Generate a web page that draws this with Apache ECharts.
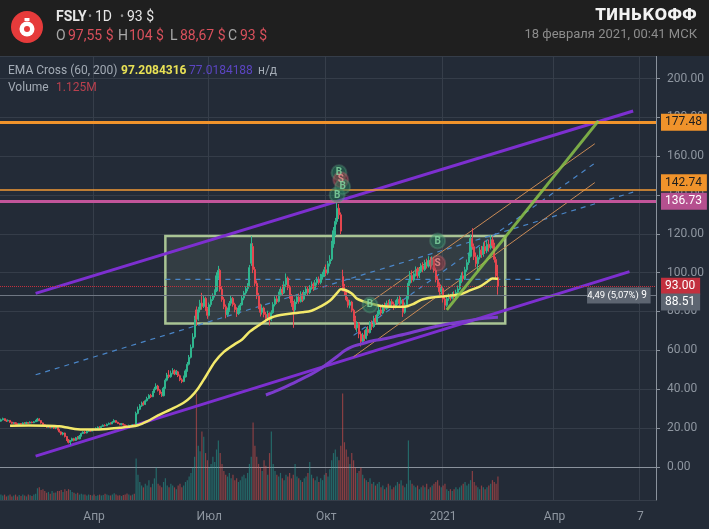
<!DOCTYPE html>
<html><head><meta charset="utf-8">
<script src="https://cdn.jsdelivr.net/npm/echarts/dist/echarts.min.js"></script>
<style>html,body{margin:0;padding:0;background:#1f1f1f;}#c{width:709px;height:529px;}</style>
</head><body><div id="c"></div><script>
// ---- category axis (trading-day slots, ~Jan 17 2020 .. Jun 2021) ----
const slotCount = 359;
const tickIndex = [51, 114, 178, 242, 303, 350];
const tickLabels = ['Апр', 'Июл', 'Окт', '2021', 'Апр', '7'];
const priceTicks = [0, 20, 40, 60, 80, 100, 120, 140, 160, 180, 200];

// ---- daily candles: [open, close, low, high] ----
const candles = [
[23.5,24.2,23.2,24.8],[24.2,24.8,23.9,25.3],[24.8,24.0,23.6,25.0],[24.0,23.6,23.1,24.3],[23.6,23.9,23.3,24.4],
[23.9,23.0,22.7,24.0],[23.0,22.4,22.0,23.2],[22.4,22.7,22.1,23.1],[22.7,22.2,21.8,22.9],[22.2,21.8,21.4,22.5],
[21.8,22.3,21.6,22.6],[22.3,22.0,21.7,22.5],[22.0,22.6,21.8,22.9],[22.6,22.3,22.0,23.0],[22.3,22.8,22.1,23.2],
[22.8,22.5,22.1,23.1],[22.5,23.0,22.3,23.4],[23.0,22.7,22.4,23.3],[22.7,23.2,22.5,23.6],[23.2,23.6,23.0,24.2],
[23.6,24.6,23.4,25.2],[24.6,23.8,23.5,25.0],[23.8,22.6,22.2,24.0],[22.6,21.6,21.2,22.8],[21.6,21.0,20.6,21.9],
[21.0,20.4,20.0,21.3],[20.4,20.9,20.1,21.4],[20.9,20.2,19.8,21.1],[20.2,20.7,19.9,21.2],[20.7,19.9,19.5,20.9],
[19.9,20.3,19.4,20.8],[20.3,19.2,18.8,20.5],[19.2,18.0,17.6,19.4],[18.0,16.8,16.3,18.3],[16.8,17.4,16.2,17.9],
[17.4,15.6,15.1,17.6],[15.6,13.8,13.3,15.9],[13.8,12.6,12.0,14.3],[12.6,13.4,11.2,13.8],[13.4,14.5,13.0,15.0],
[14.5,13.6,13.1,14.9],[13.6,15.0,13.3,15.4],[15.0,14.4,14.0,15.8],[14.4,15.8,14.2,16.4],[15.8,17.2,15.6,17.6],
[17.2,17.9,16.9,18.3],[17.9,17.4,17.0,18.4],[17.4,18.3,17.2,18.7],[18.3,18.9,18.0,19.3],[18.9,18.4,18.1,19.2],
[18.4,19.3,18.2,19.7],[19.3,19.0,18.6,19.8],[19.0,19.8,18.8,20.3],[19.8,20.4,19.5,20.8],[20.4,20.1,19.7,20.9],
[20.1,20.8,19.9,21.2],[20.8,21.4,20.6,21.8],[21.4,21.1,20.8,21.9],[21.1,21.9,21.0,22.3],[21.9,22.4,21.6,22.8],
[22.4,22.1,21.8,22.9],[22.1,23.0,22.0,23.5],[23.0,23.8,22.8,24.5],[23.8,22.9,22.6,24.0],[22.9,22.3,22.0,23.2],
[22.3,21.7,21.4,22.6],[21.7,22.2,21.4,22.5],[22.2,21.6,21.2,22.4],[21.6,21.1,20.8,21.9],[21.1,20.6,20.3,21.5],
[20.6,21.3,20.5,21.7],[21.3,21.0,20.7,21.6],[21.0,21.6,20.8,22.0],[21.6,21.4,21.0,22.1],[21.6,27.5,21.5,28.4],
[27.5,29.6,27.0,31.0],[29.6,31.4,29.2,32.3],[31.4,32.8,30.9,33.6],[32.8,32.1,31.5,33.8],[32.1,34.0,31.8,34.6],
[34.0,35.2,33.6,36.1],[35.2,36.8,34.8,37.4],[36.8,36.1,35.5,37.6],[36.1,38.4,35.9,39.0],[38.4,40.1,38.0,41.2],
[40.1,41.6,39.5,43.0],[41.6,39.4,38.8,42.2],[39.4,37.8,37.0,40.0],[37.8,36.6,36.0,38.6],[36.6,40.5,36.3,41.2],
[40.5,44.6,40.2,45.5],[44.6,47.3,44.0,48.4],[47.3,46.4,45.6,49.8],[46.4,48.2,45.9,49.6],[48.2,49.5,47.6,50.8],
[49.5,47.8,47.2,50.2],[47.8,48.9,47.3,49.9],[48.9,46.9,46.2,49.4],[46.9,44.8,44.1,47.5],[44.8,43.9,43.1,45.6],
[43.9,46.3,43.6,47.0],[46.3,49.4,46.0,50.2],[49.4,52.8,49.0,54.0],[52.8,56.4,52.2,57.6],[56.4,61.5,55.8,63.0],
[61.5,66.8,61.0,68.8],[66.8,76.4,66.0,77.8],[80.8,76.0,72.6,82.6],[76.0,80.9,75.2,82.4],[80.9,84.3,79.5,86.0],
[84.3,82.6,80.9,89.6],[82.6,86.8,81.8,88.5],[86.8,81.4,80.3,87.6],[81.4,78.0,76.2,82.3],[78.0,83.5,77.5,84.6],
[83.5,86.2,82.4,87.8],[86.2,88.3,85.4,89.4],[88.3,90.6,87.2,91.4],[90.6,98.4,90.0,100.2],[98.4,101.2,96.8,103.5],
[101.2,91.5,90.2,102.0],[91.5,86.2,85.0,93.0],[86.2,82.5,81.2,87.4],[82.5,78.4,76.5,83.6],[78.4,80.6,77.4,82.0],
[80.6,84.2,79.8,85.4],[84.2,86.8,83.0,88.2],[86.8,83.6,82.5,87.5],[83.6,81.0,79.6,84.5],[81.0,78.9,77.2,82.2],
[78.9,81.8,78.2,83.0],[81.8,83.4,80.5,84.4],[83.4,86.9,83.0,88.0],[86.9,89.5,85.8,90.6],[89.5,91.8,88.6,93.0],
[91.8,93.2,90.4,94.6],[93.2,102.6,92.8,104.0],[104.8,114.9,103.5,118.8],[113.5,101.6,99.8,115.2],[101.6,94.5,93.2,103.0],
[94.5,88.0,86.4,96.0],[88.0,82.5,81.2,89.6],[82.5,79.6,77.4,84.0],[79.6,81.8,78.4,83.6],[81.8,78.5,77.0,82.5],
[78.5,76.4,74.6,79.8],[76.4,78.9,75.2,80.4],[78.9,75.8,72.8,79.6],[75.8,79.4,75.0,80.6],[79.4,83.6,78.8,84.8],
[83.6,86.5,82.6,87.8],[86.5,85.2,83.9,88.4],[85.2,88.7,84.6,90.2],[88.7,91.4,87.8,92.6],[91.4,89.6,88.4,93.8],
[89.6,93.8,89.0,95.6],[93.8,97.2,92.5,99.6],[97.2,92.4,91.0,98.0],[92.4,88.1,86.5,93.5],[88.1,84.5,82.4,89.0],
[84.5,80.8,71.6,85.4],[80.8,84.9,79.5,86.2],[84.9,87.5,83.8,88.8],[87.5,85.1,84.0,89.2],[85.1,88.9,84.6,90.4],
[88.9,86.3,84.8,90.0],[86.3,89.4,85.5,91.0],[89.4,91.6,88.5,93.0],[91.6,89.8,88.4,92.8],[89.8,92.4,88.9,93.6],
[92.4,94.1,91.2,95.5],[94.1,91.8,90.6,95.0],[91.8,94.8,91.0,96.2],[94.8,96.3,93.4,97.8],[96.3,94.9,93.8,98.0],
[94.9,97.8,94.0,99.4],[97.8,99.2,96.4,100.5],[99.2,101.5,97.8,103.0],[101.5,99.8,98.2,104.2],[99.8,104.6,99.0,106.0],
[104.6,106.9,103.2,109.0],[106.9,114.8,106.0,116.4],[114.8,121.6,112.8,123.5],[121.6,126.4,119.0,128.2],[126.4,133.2,124.8,136.2],
[133.2,129.8,127.6,135.4],[129.8,121.4,119.8,131.0],[98.0,92.6,90.4,101.5],[92.6,90.4,88.0,94.2],[90.4,86.0,85.2,91.4],
[86.0,83.2,82.0,87.4],[83.2,84.9,81.6,86.0],[84.9,80.6,79.6,85.5],[80.6,76.2,74.8,81.4],[76.2,71.5,70.6,77.8],
[71.5,73.8,69.5,75.0],[73.8,68.4,66.2,74.5],[68.4,64.6,62.0,69.8],[64.6,67.9,63.5,69.0],[67.9,66.2,64.8,70.4],
[66.2,70.8,65.6,72.0],[70.8,69.1,67.5,72.4],[69.1,73.6,68.7,75.0],[73.6,72.2,70.4,75.4],[72.2,76.4,71.6,77.8],
[76.4,74.6,73.5,78.2],[74.6,78.5,74.0,80.4],[78.5,80.8,77.6,82.5],[80.8,79.2,77.8,82.4],[79.2,82.5,78.6,83.8],
[82.5,81.4,80.2,84.6],[81.4,84.2,80.8,85.6],[84.2,82.6,81.6,86.0],[82.6,85.1,82.0,86.4],[85.1,83.8,82.6,86.4],
[83.8,82.1,80.8,85.0],[82.1,84.6,81.6,85.8],[84.6,86.3,83.9,87.6],[86.3,84.1,83.0,88.2],[84.1,85.8,83.5,87.4],
[85.8,79.6,77.2,86.4],[79.6,83.4,78.8,84.6],[83.4,86.8,82.5,88.4],[86.8,94.6,86.2,96.0],[94.6,98.6,93.2,100.8],
[98.6,96.2,94.8,101.2],[96.2,99.4,95.4,100.6],[99.4,101.8,98.0,103.2],[101.8,98.4,97.0,102.8],[98.4,100.6,97.2,102.4],
[100.6,103.5,99.8,104.8],[103.5,101.6,100.2,105.4],[101.6,105.2,100.8,106.6],[105.2,103.4,102.1,107.2],[103.4,106.2,102.6,108.5],
[106.2,104.0,101.5,108.0],[104.0,106.8,103.2,108.4],[106.8,101.2,100.0,107.5],[101.2,96.5,95.0,102.6],[96.5,93.8,92.4,98.2],
[93.8,90.2,88.6,95.0],[90.2,91.8,88.8,93.4],[91.8,86.4,84.6,92.6],[86.4,83.2,80.8,87.5],[83.2,86.6,82.4,87.8],
[86.6,87.9,85.5,89.2],[87.9,86.8,85.6,89.0],[86.8,88.9,86.2,90.0],[88.9,87.6,86.5,90.4],[87.6,89.8,87.0,91.2],
[89.8,91.6,88.8,93.4],[91.6,95.8,91.0,97.2],[95.8,98.4,94.6,100.2],[98.4,96.9,95.4,100.6],[96.9,101.5,96.2,103.0],
[101.5,105.2,100.4,106.8],[105.2,108.4,104.0,110.2],[108.4,117.6,107.8,119.6],[117.6,113.4,111.8,122.9],[113.4,108.2,106.5,115.0],
[108.2,104.6,102.8,110.4],[104.6,107.9,101.0,109.2],[107.9,111.6,106.8,113.2],[111.6,109.4,107.6,113.8],[109.4,113.5,108.2,115.6],
[113.5,111.2,109.6,116.4],[111.2,114.6,110.0,116.8],[114.6,112.8,110.8,117.0],[112.8,116.9,111.9,119.4],[116.9,114.0,112.4,118.6],
[114.0,106.8,105.2,115.4],[106.8,98.4,96.8,108.2],[97.55,93.0,88.67,104.0]
];

// ---- volume, millions ----
const volumes = [
3,2.5,3,2,2.5,3,2,2.5,3,2,2.8,2.2,3,2.5,2,3,2.6,2.2,3,3.5,
6.5,7,5.5,6,5,
4,4.5,3.5,5,4,4.2,5,
5,5.5,4.5,6,5,6,5.5,4.5,4,3.5,4,3,3.5,3,
3,2.5,3,2.8,2.5,3,2.2,2.6,3,2.5,2.8,3.5,3,2.6,2.5,3,3.8,3,2.5,2.6,2.2,2.8,3,3.6,3,2.5,3,3.5,
23,14,
10,8,7,9,8,11,7,9,12,18,
9,8,7,10,12,8,7,9,8,7,6,8,9,7,8,10,11,13,15,18,
24,59,30,27,38,35,26,
22,18,20,24,21,28,33,26,
20,16,14,13,15,12,14,11,12,10,11,13,14,12,15,20,24,
43,30,24,20,18,16,22,19,14,26,
38,
20,16,14,13,15,12,11,14,13,15,12,14,20,13,12,11,10,12,
13,15,21,14,
12,11,13,10,12,11,14,15,13,17,22,26,28,24,22,
30,59,32,
28,24,20,26,
22,18,15,16,18,14,12,11,10,12,9,10,8,9,10,
7,8,6,7,9,8,6,7,8,10,9,11,8,7,9,
33,
11,9,8,7,8,6,7,8,7,9,
6,7,8,9,10,11,8,7,8,9,6,5,6,5,6,7,6,7,8,9,10,8,9,11,
16,
10,8,7,6,8,7,6,7,8,9,11,10,9,
13
];

// ---- indicator lines: [slot, value] ----
const ema60 = [[5,21.2],[15,21.3],[25,21.2],[32,20.9],[37,20.1],[42,19.4],[50,19.2],[58,19.5],[65,20.1],[70,20.6],[75,21.4],[80,23.4],[86,26.5],[93,29.6],[100,33.0],[104,36.0],[108,40.5],[112,46.4],[117,54.0],[122,59.2],[128,63.2],[132,65.6],[136,69.5],[141,72.8],[147,76.5],[153,78.2],[159,79.0],[165,79.6],[170,80.4],[175,82.6],[180,85.5],[184,89.6],[186,91.4],[188,91.2],[192,89.3],[195,86.5],[199,85.0],[203,84.0],[208,82.8],[214,82.4],[221,82.5],[226,84.0],[230,86.0],[236,87.2],[241,87.7],[247,88.3],[252,89.0],[257,91.0],[262,92.8],[266,95.2],[269,97.0],[272,96.9]];
const ema200 = [[145,37.0],[150,38.8],[156,41.3],[162,44.0],[168,46.8],[174,50.0],[180,54.0],[184,56.8],[188,59.8],[192,61.8],[197,63.2],[203,64.8],[208,65.6],[215,67.0],[222,68.5],[230,70.5],[238,72.3],[246,73.8],[254,75.0],[262,76.2],[268,76.8],[272,77.0]];

// ---- drawings: [slot, price] endpoints ----
const channelUpper = [[19, 89.3], [346, 183.3]];
const channelLower = [[19, 5.5], [344, 100.5]];
const channelMid = [[19, 47.4], [346, 141.5]];
const rangeBox = [[90, 118.9], [276, 73.8]];
const rangeMid = [[90, 96.5], [295, 96.5]];
const fanUpper = [[193, 78.7], [325, 166.4]];
const fanLower = [[193, 56.7], [325, 146.4]];
const fanMid = [[193, 67.7], [325, 156.4]];
const greenTrend = [[244, 80.8], [327, 178.2]];
const signals = [[184, 140.0, 'B'], [185, 151.5, 'B'], [186, 147.8, 'S'], [187, 144.3, 'B'], [202, 83.4, 'B'], [239, 116.3, 'B'], [239, 104.8, 'S']];
const levels = [177.48, 142.74, 136.73, 93.00, 88.51];
const measureText = ['4,49 (5,07%)', '9'];
const measureAt = [[335, 88.25], [352, 88.25]];

const chart = echarts.init(document.getElementById('c'), null, {renderer: 'canvas'});
const slots = Array.from({length: slotCount}, (_, i) => i);
const volData = volumes.map((v, i) => ({value: v, itemStyle: {color: candles[i][1] >= candles[i][0] ? 'rgba(38,166,154,0.5)' : 'rgba(239,83,80,0.5)'}}));
const FONT = 'Roboto, "Noto Sans", sans-serif';

function seg(data, color, width, type, z) {
  return {type: 'line', data: data, symbol: 'none', silent: true, z: z || 3,
    lineStyle: {color: color, width: width, type: type || 'solid'}, animation: false};
}
function lvl(v, color, width, type, bg, fg, dy) {
  return {yAxis: v, lineStyle: {color: color, width: width, type: type, opacity: 1},
    label: {show: true, position: 'end', formatter: v.toFixed(2), backgroundColor: bg, color: fg,
      padding: [3, 5, 2, 4], fontSize: 12, fontFamily: FONT, distance: 5, offset: [0, dy || 0]}};
}
const sigData = signals.map(s => ({value: s,
  itemStyle: {color: s[2] === 'B' ? 'rgba(40,125,95,0.6)' : 'rgba(165,60,72,0.6)',
    borderColor: s[2] === 'B' ? 'rgba(110,195,150,0.3)' : 'rgba(230,120,130,0.3)', borderWidth: 2},
  label: {color: s[2] === 'B' ? '#86dca4' : '#f29090'}}));

const option = {
  backgroundColor: '#232b37',
  animation: false,
  grid: {left: 0, right: 53, top: 56, bottom: 29},
  xAxis: {
    type: 'category', data: slots, boundaryGap: true,
    axisLine: {lineStyle: {color: '#8a929c'}},
    axisTick: {interval: (i) => tickIndex.includes(i), alignWithLabel: true, length: 4, lineStyle: {color: '#8a929c'}},
    axisLabel: {interval: (i) => tickIndex.includes(i), formatter: (v, i) => tickLabels[tickIndex.indexOf(Number(v))] || '',
      color: '#8e96a0', fontSize: 12, fontFamily: FONT, margin: 11},
    splitLine: {show: true, interval: (i) => tickIndex.includes(i), lineStyle: {color: '#363e4a'}}
  },
  yAxis: [{
    type: 'value', position: 'right', min: -17.1, max: 211.6, splitNumber: 11,
    axisLine: {show: true, lineStyle: {color: '#8a929c'}},
    axisTick: {show: true, length: 4, lineStyle: {color: '#8a929c'}},
    axisLabel: {color: '#8e96a0', fontSize: 12, fontFamily: FONT, margin: 11, showMinLabel: false, showMaxLabel: false,
      formatter: (v) => priceTicks.includes(Math.round(v)) && Math.abs(v - Math.round(v)) < 1e-6 ? v.toFixed(2) : ''},
    splitLine: {lineStyle: {color: '#353d49'}}
  }, {
    type: 'value', min: 0, max: 246, show: false, splitLine: {show: false}
  }],
  series: [
    {type: 'bar', yAxisIndex: 1, data: volData, barWidth: 1.2, silent: true, z: 1},
    seg(channelUpper, '#7d2fd0', 3),
    seg(channelLower, '#7d2fd0', 3),
    seg(channelMid, '#4a86c8', 1.2, [5, 5]),
    seg(rangeMid, '#4a86c8', 1.2, [5, 5]),
    seg(fanUpper, '#c98a55', 1),
    seg(fanLower, '#c98a55', 1),
    seg(fanMid, '#4a86c8', 1.2, [5, 5]),
    {
      type: 'candlestick', data: candles, barWidth: 1.6, z: 4, silent: true,
      itemStyle: {color: '#2fb58e', color0: '#e4464f', borderColor: '#2fb58e', borderColor0: '#e4464f', borderWidth: 1},
      markArea: {silent: true, data: [[
        {xAxis: rangeBox[0][0], yAxis: rangeBox[0][1], itemStyle: {color: 'rgba(150,175,140,0.14)', borderColor: '#a9c494', borderWidth: 2.5}},
        {xAxis: rangeBox[1][0], yAxis: rangeBox[1][1]}
      ]]},
      markLine: {symbol: ['none', 'none'], silent: true, animation: false, data: [
        lvl(levels[0], '#f0932b', 3, 'solid', '#f0932b', '#1e1e1e', 0),
        lvl(levels[1], '#f29a36', 1.5, 'solid', '#f0932b', '#1e1e1e', -7),
        lvl(levels[2], '#c2559a', 3, 'solid', '#b5508f', '#ffffff', 0),
        lvl(levels[3], '#c2303e', 1, 'dotted', '#c2303e', '#ffffff', 0),
        lvl(levels[4], '#6f7783', 1, 'solid', '#5d6571', '#ffffff', 7)
      ]},
      markPoint: {silent: true, data: [
        {coord: measureAt[0], symbol: 'rect', symbolSize: [52, 16], itemStyle: {color: '#5d6571'},
          label: {show: true, formatter: measureText[0], color: '#ffffff', fontSize: 9.5, fontFamily: FONT}},
        {coord: measureAt[1], symbol: 'rect', symbolSize: [13, 16], itemStyle: {color: '#5d6571'},
          label: {show: true, formatter: measureText[1], color: '#ffffff', fontSize: 10, fontFamily: FONT}}
      ]}
    },
    Object.assign(seg(ema60, '#f3e96b', 2.5), {smooth: 0.3, z: 5}),
    Object.assign(seg(ema200, '#7c3ccc', 3), {smooth: 0.3, z: 5}),
    seg(greenTrend, 'rgba(139,195,74,0.85)', 3, 'solid', 6),
    {
      type: 'scatter', data: sigData, symbol: 'circle', symbolSize: 15, z: 7, silent: true,
      label: {show: true, position: 'inside', formatter: (p) => p.value[2], fontSize: 10, fontWeight: 'bold', fontFamily: FONT}
    }
  ],
  graphic: [
    {type: 'rect', shape: {x: 0, y: 0, width: 709, height: 56}, style: {fill: '#1f1f1f'}, z: 10, silent: true},
    {type: 'circle', shape: {cx: 27, cy: 27, r: 16}, style: {fill: '#e63b3b'}, z: 11},
    {type: 'circle', shape: {cx: 27, cy: 29, r: 7.5}, style: {fill: '#ffffff'}, z: 12},
    {type: 'circle', shape: {cx: 27, cy: 29, r: 3}, style: {fill: '#e63b3b'}, z: 13},
    {type: 'rect', shape: {x: 24.5, y: 18, width: 5, height: 3}, style: {fill: '#ffffff'}, z: 12},
    {type: 'text', x: 56, y: 17, z: 11, style: {text: 'FSLY', fill: '#e6e6e6', font: 'bold 14px ' + FONT, verticalAlign: 'middle'}},
    {type: 'text', x: 88, y: 17, z: 11, style: {text: '•', fill: '#8a8a8a', font: '12px ' + FONT, verticalAlign: 'middle'}},
    {type: 'text', x: 95, y: 17, z: 11, style: {text: '1D', fill: '#e6e6e6', font: '14px ' + FONT, verticalAlign: 'middle'}},
    {type: 'text', x: 120, y: 17, z: 11, style: {text: '•', fill: '#8a8a8a', font: '12px ' + FONT, verticalAlign: 'middle'}},
    {type: 'text', x: 127, y: 17, z: 11, style: {text: '93 $', fill: '#e6e6e6', font: '14px ' + FONT, verticalAlign: 'middle'}},
    {type: 'text', x: 56, y: 36, z: 11, style: {text: 'O', fill: '#a8a8a8', font: '14px ' + FONT, verticalAlign: 'middle'}},
    {type: 'text', x: 68, y: 36, z: 11, style: {text: '97,55 $', fill: '#d9505c', font: '14px ' + FONT, verticalAlign: 'middle'}},
    {type: 'text', x: 118, y: 36, z: 11, style: {text: 'H', fill: '#a8a8a8', font: '14px ' + FONT, verticalAlign: 'middle'}},
    {type: 'text', x: 129, y: 36, z: 11, style: {text: '104 $', fill: '#d9505c', font: '14px ' + FONT, verticalAlign: 'middle'}},
    {type: 'text', x: 170, y: 36, z: 11, style: {text: 'L', fill: '#a8a8a8', font: '14px ' + FONT, verticalAlign: 'middle'}},
    {type: 'text', x: 180, y: 36, z: 11, style: {text: '88,67 $', fill: '#d9505c', font: '14px ' + FONT, verticalAlign: 'middle'}},
    {type: 'text', x: 228, y: 36, z: 11, style: {text: 'C', fill: '#a8a8a8', font: '14px ' + FONT, verticalAlign: 'middle'}},
    {type: 'text', x: 240, y: 36, z: 11, style: {text: '93 $', fill: '#d9505c', font: '14px ' + FONT, verticalAlign: 'middle'}},
    {type: 'text', x: 697, y: 16, z: 11, style: {text: 'ТИНЬКОФФ', fill: '#f2f2f2', font: 'bold 15px "DejaVu Sans", sans-serif', align: 'right', verticalAlign: 'middle'}},
    {type: 'text', x: 697, y: 35, z: 11, style: {text: '18 февраля 2021, 00:41 МСК', fill: '#8c8c8c', font: '13px ' + FONT, align: 'right', verticalAlign: 'middle'}},
    {type: 'text', x: 8, y: 71, z: 11, style: {text: 'EMA Cross (60, 200)', fill: '#a3abb5', font: '12px ' + FONT, verticalAlign: 'middle'}},
    {type: 'text', x: 121, y: 71, z: 11, style: {text: '97.2084316', fill: '#e8e155', font: 'bold 12px ' + FONT, verticalAlign: 'middle'}},
    {type: 'text', x: 189, y: 71, z: 11, style: {text: '77.0184188', fill: '#5b45c2', font: '12px ' + FONT, verticalAlign: 'middle'}},
    {type: 'text', x: 258, y: 71, z: 11, style: {text: 'н/д', fill: '#a3abb5', font: '12px ' + FONT, verticalAlign: 'middle'}},
    {type: 'text', x: 8, y: 88, z: 11, style: {text: 'Volume', fill: '#a3abb5', font: '12px ' + FONT, verticalAlign: 'middle'}},
    {type: 'text', x: 56, y: 88, z: 11, style: {text: '1.125M', fill: '#b8404e', font: '12px ' + FONT, verticalAlign: 'middle'}}
  ]
};
chart.setOption(option);
</script></body></html>
